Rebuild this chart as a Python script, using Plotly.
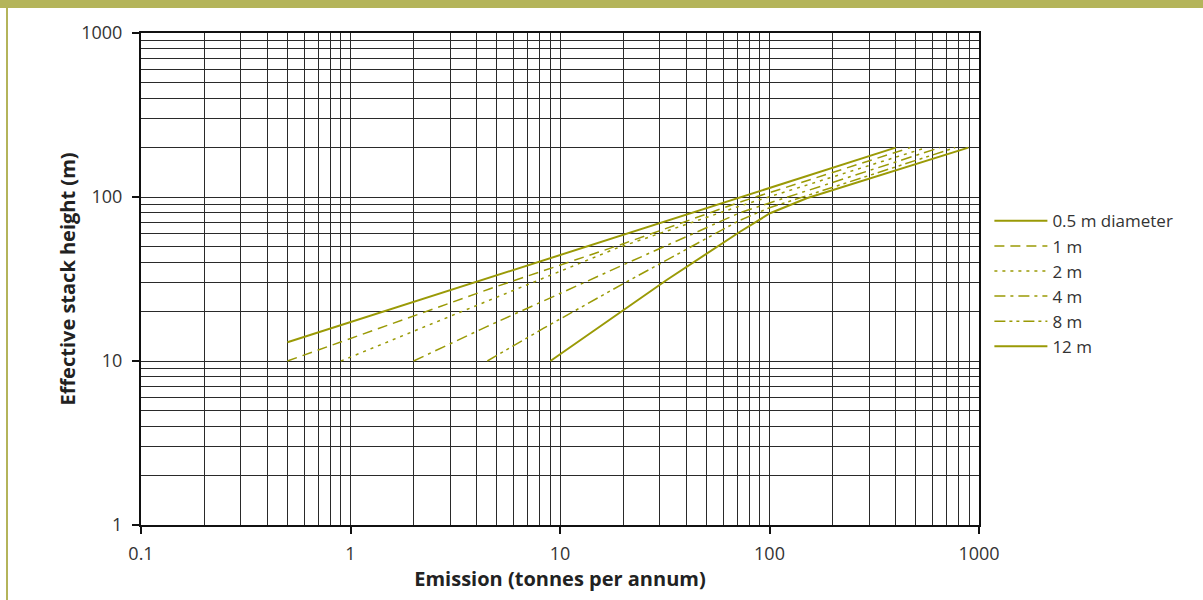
import plotly.graph_objects as go

# ---- data ----
series_names = ["0.5 m diameter", "1 m", "2 m", "4 m", "8 m", "12 m"]

emission_05 = [0.5, 400]
height_05 = [13, 200]

emission_1 = [0.5, 0.9, 4.6, 19.3, 72, 470]
height_1 = [10, 13.1, 27.5, 51, 93, 200]

emission_2 = [0.9, 4.4, 18.6, 72, 560]
height_2 = [10, 23, 48.7, 88, 200]

emission_4 = [2, 4.47, 20.8, 72, 100, 650]
height_4 = [10, 16.2, 39.4, 80, 92, 200]

emission_8 = [4.5, 8.32, 20.8, 72, 100, 770]
height_8 = [10, 15.8, 30.4, 72, 86, 200]

emission_12 = [9, 14.7, 21.6, 32.3, 72.3, 100.6, 150.5, 270, 890]
height_12 = [10, 15.5, 22.0, 31.2, 61.4, 79.6, 98.2, 124, 200]

x_tick_vals = [0.1, 1, 10, 100, 1000]
x_tick_text = ["0.1", "1", "10", "100", "1000"]
y_tick_vals = [1, 10, 100, 1000]
y_tick_text = ["1", "10", "100", "1000"]

# ---- styling ----
OLIVE = "#9a9a06"
GRID = "#2a2a2a"
FONT = "Open Sans"

xs = [emission_05, emission_1, emission_2, emission_4, emission_8, emission_12]
ys = [height_05, height_1, height_2, height_4, height_8, height_12]
dashes = ["solid", "10px,6px", "3px,5px", "11px,5px,3px,5px",
          "11px,4px,3px,4px,3px,4px", "solid"]
widths = [2, 1.5, 1.5, 1.5, 1.5, 2]

fig = go.Figure()
for name, x, y, d, w in zip(series_names, xs, ys, dashes, widths):
    fig.add_trace(go.Scatter(x=x, y=y, mode="lines", name=name,
                             line=dict(color=OLIVE, width=w, dash=d)))

axis_common = dict(
    type="log", showline=True, linecolor="#111", linewidth=2, mirror=True,
    showgrid=True, gridcolor=GRID, gridwidth=1,
    ticks="outside", ticklen=7, tickcolor="#111", tickwidth=1.5,
    tickfont=dict(family=FONT, size=18, color="#333"),
    minor=dict(dtick="D1", showgrid=True, gridcolor=GRID, gridwidth=1, ticks=""),
    zeroline=False,
)

fig.update_layout(
    width=1203, height=600,
    margin=dict(l=141, r=224, t=33, b=75),
    paper_bgcolor="white", plot_bgcolor="white",
    font=dict(family=FONT, color="#222"),
    xaxis=dict(axis_common, range=[-1, 3], tickvals=x_tick_vals, ticktext=x_tick_text,
               ticklabelstandoff=4,
               title=dict(text="<b>Emission (tonnes per annum)</b>",
                          font=dict(family=FONT, size=20, color="#222"), standoff=5)),
    yaxis=dict(axis_common, range=[0, 3], tickvals=y_tick_vals, ticktext=y_tick_text,
               ticklabelstandoff=6,
               title=dict(text="<b>Effective stack height (m)</b>",
                          font=dict(family=FONT, size=20, color="#222"), standoff=0)),
    legend=dict(x=1.0124, y=0.654, xanchor="left", yanchor="top",
                font=dict(family=FONT, size=17, color="#333"),
                itemwidth=53, tracegroupgap=0, bgcolor="rgba(0,0,0,0)"),
    showlegend=True,
    shapes=[
        dict(type="rect", xref="paper", yref="paper", x0=-0.2, x1=1.3,
             y0=(525 - 8) / 492, y1=(525 + 2) / 492, fillcolor="#b4b45a",
             line=dict(width=0), layer="above"),
        dict(type="rect", xref="paper", yref="paper", x0=(6 - 141) / 838, x1=(8 - 141) / 838,
             y0=-0.2, y1=1.1, fillcolor="#b4b45a", line=dict(width=0), layer="above"),
    ],
)

fig.write_html("out.html")
